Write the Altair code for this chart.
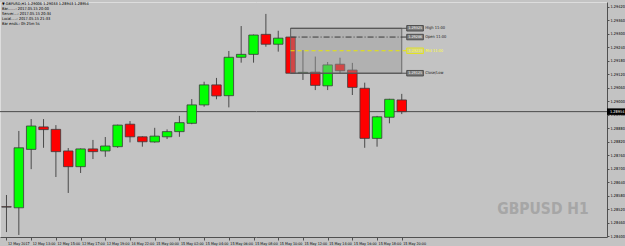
import altair as alt
import pandas as pd

# ---- data (GBPUSD H1) ----
times = ["12 May 11:00", "12 May 12:00", "12 May 13:00", "12 May 14:00", "12 May 15:00",
         "12 May 16:00", "12 May 17:00", "12 May 18:00", "12 May 19:00", "12 May 20:00",
         "14 May 22:00", "14 May 23:00", "15 May 00:00", "15 May 01:00", "15 May 02:00",
         "15 May 03:00", "15 May 04:00", "15 May 05:00", "15 May 06:00", "15 May 07:00",
         "15 May 08:00", "15 May 09:00", "15 May 10:00", "15 May 11:00", "15 May 12:00",
         "15 May 13:00", "15 May 14:00", "15 May 15:00", "15 May 16:00", "15 May 17:00",
         "15 May 18:00", "15 May 19:00", "15 May 20:00"]
opens = [1.28531, 1.28526, 1.28786, 1.28886, 1.28875, 1.28779, 1.28709, 1.28788, 1.28779, 1.28798,
         1.28898, 1.28842, 1.28819, 1.28842, 1.28865, 1.28902, 1.28984, 1.29073, 1.29025, 1.29196,
         1.29209, 1.29298, 1.29254, 1.29286, 1.29125, 1.29130, 1.29069, 1.29165, 1.29139, 1.29058,
         1.28835, 1.28929, 1.29006]
highs = [1.28583, 1.28868, 1.28921, 1.28921, 1.28894, 1.28792, 1.28790, 1.28828, 1.28841, 1.28896,
         1.28912, 1.28844, 1.28882, 1.28875, 1.28935, 1.29010, 1.29087, 1.29104, 1.29224, 1.29335,
         1.29297, 1.29389, 1.29314, 1.29325, 1.29228, 1.29199, 1.29175, 1.29194, 1.29171, 1.29083,
         1.28935, 1.29011, 1.29033]
lows = [1.28418, 1.28405, 1.28698, 1.28793, 1.28663, 1.28592, 1.28681, 1.28743, 1.28753, 1.28793,
        1.28817, 1.28798, 1.28816, 1.28832, 1.28842, 1.28898, 1.28976, 1.29009, 1.28973, 1.29172,
        1.29172, 1.29243, 1.29221, 1.29125, 1.29095, 1.29050, 1.29050, 1.29125, 1.29028, 1.28793,
        1.28798, 1.28902, 1.28943]
closes = [1.28529, 1.28793, 1.28890, 1.28874, 1.28776, 1.28709, 1.28788, 1.28776, 1.28801, 1.28894,
          1.28842, 1.28820, 1.28845, 1.28865, 1.28905, 1.28984, 1.29073, 1.29024, 1.29196, 1.29209,
          1.29295, 1.29254, 1.29281, 1.29125, 1.29129, 1.29071, 1.29162, 1.29136, 1.29062, 1.28835,
          1.28931, 1.29009, 1.28954]

x_tick_labels = ["12 May 2017", "12 May 13:00", "12 May 15:00", "12 May 17:00", "12 May 19:00",
                 "14 May 22:00", "15 May 00:00", "15 May 02:00", "15 May 04:00", "15 May 06:00",
                 "15 May 08:00", "15 May 10:00", "15 May 12:00", "15 May 14:00", "15 May 16:00",
                 "15 May 18:00", "15 May 20:00"]
y_tick_values = [1.28400, 1.28460, 1.28520, 1.28580, 1.28640, 1.28700, 1.28760, 1.28820, 1.28880,
                 1.28940, 1.29000, 1.29060, 1.29120, 1.29180, 1.29240, 1.29300, 1.29360, 1.29420]

level_names = ["High 11:00", "Open 11:00", "Mid 11:00", "Close/Low"]
level_prices = [1.29325, 1.29286, 1.29225, 1.29125]
box_start_bar = 23
box_end_bar = 32

header_lines = ["\u25BC GBPUSD,H1  1.29006 1.29033 1.28943 1.28954",
                "Bar.......: 2017.05.15 20:00",
                "Server....: 2017.05.15 20:34",
                "Local.....: 2017.05.15 21:33",
                "Bar ends.: 0h 25m 5s"]
watermark = "GBPUSD H1"

SMALL_FONT = "DejaVu Sans Condensed"

# ---- tables ----
df = pd.DataFrame({"i": range(len(opens)), "time": times, "open": opens, "high": highs,
                   "low": lows, "close": closes})
df["dir"] = ["up" if c >= o else "down" for o, c in zip(opens, closes)]

levels = pd.DataFrame({"name": level_names, "price": level_prices,
                       "label": [f"{p:.5f}" for p in level_prices]})
levels["x0"] = box_start_bar
levels["x1"] = box_end_bar + 0.4
levels["lx0"] = box_end_bar + 0.4
levels["lx1"] = box_end_bar + 1.75
levels["tx"] = box_end_bar + 1.9

box = pd.DataFrame({"x0": [box_start_bar], "x1": [box_end_bar],
                    "hi": [level_prices[0]], "lo": [level_prices[3]]})
last = df.tail(1)

W, H = 607, 235
xscale = alt.Scale(domain=[-0.12, 48.21], nice=False, zero=False)
yscale = alt.Scale(domain=[1.28396, 1.29442], nice=False, zero=False)

label_expr = "[" + ",".join(f"'{t}'" for t in x_tick_labels) + "][round(datum.value/2)]"

xaxis = alt.Axis(values=list(range(0, len(opens), 2)), labelExpr=label_expr, labelAlign="left",
                 labelBaseline="top", labelFontSize=3.7, labelFont=SMALL_FONT, labelPadding=1.5,
                 tickSize=3, labelOverlap=False, labelBound=False, labelFlush=False, grid=False,
                 title=None, domainColor="#505050", tickColor="#505050", labelColor="#000000",
                 labelOffset=1)
yaxis = alt.Axis(orient="right", values=y_tick_values, format=".5f", labelFontSize=3.9,
                 labelFont=SMALL_FONT, labelPadding=1, tickSize=2, labelOverlap=False, grid=False,
                 title=None, domainColor="#505050", tickColor="#505050", labelColor="#000000")

X = lambda f: alt.X(f"{f}:Q", scale=xscale, axis=xaxis)
Y = lambda f: alt.Y(f"{f}:Q", scale=yscale, axis=yaxis)

base = alt.Chart(df)

price_line = alt.Chart(last).mark_rule(color="#4a4a4a", strokeWidth=1).encode(
    x=alt.value(0), x2=alt.value(W), y=Y("close"))

wicks = base.mark_rule(color="#4a4a4a", strokeWidth=1).encode(
    x=X("i"), y=Y("low"), y2="high")

bodies = base.mark_bar(size=9.5, stroke="#3a3a3a", strokeWidth=0.8).encode(
    x=X("i"), y=Y("open"), y2="close",
    color=alt.Color("dir:N", scale=alt.Scale(domain=["up", "down"], range=["#00ff00", "#ff0000"]),
                    legend=None))

box_rect = alt.Chart(box).mark_rect(fill="#9c9c9c", fillOpacity=0.45, stroke="#6a6a6a",
                                    strokeWidth=1).encode(
    x=X("x0"), x2="x1", y=Y("hi"), y2="lo")

lv = alt.Chart(levels)
line_open = lv.transform_filter("datum.name == 'Open 11:00'").mark_rule(
    color="#3a3a3a", strokeDash=[6, 2, 1, 2], strokeWidth=1).encode(x=X("x0"), x2="x1", y=Y("price"))
line_mid = lv.transform_filter("datum.name == 'Mid 11:00'").mark_rule(
    color="#e8e800", strokeDash=[4, 3], strokeWidth=1).encode(x=X("x0"), x2="x1", y=Y("price"))
line_hl = lv.transform_filter("datum.name == 'High 11:00' || datum.name == 'Close/Low'").mark_rule(
    color="#505050", strokeWidth=1).encode(x=X("x0"), x2="x1", y=Y("price"))

tag_rect = lv.mark_rect(height=5.5, strokeWidth=0.8).encode(
    x=X("lx0"), x2="lx1", y=Y("price"),
    fill=alt.condition("datum.name == 'Mid 11:00'", alt.value("#cfcf9a"), alt.value("#7c7c7c")),
    stroke=alt.condition("datum.name == 'Mid 11:00'", alt.value("#e8e800"), alt.value("#3a3a3a")))
tag_text = lv.mark_text(fontSize=3.8, font=SMALL_FONT, align="center", baseline="middle").encode(
    x=X("lx0"), y=Y("price"), xOffset=alt.value(8.5), text="label:N",
    color=alt.condition("datum.name == 'Mid 11:00'", alt.value("#ffff30"), alt.value("#f0f0f0")))
name_text = lv.mark_text(fontSize=4.0, font=SMALL_FONT, align="left", baseline="middle").encode(
    x=X("tx"), y=Y("price"), text="name:N",
    color=alt.condition("datum.name == 'Mid 11:00'", alt.value("#ffff30"), alt.value("#202020")))

cur_rect = alt.Chart(last).mark_rect(height=6.5, color="#000000").encode(
    x=alt.value(W), x2=alt.value(W + 18), y=Y("close"))
cur_text = alt.Chart(last).mark_text(fontSize=3.9, font=SMALL_FONT, align="left",
                                     baseline="middle", color="#ffffff").encode(
    x=alt.value(W + 3), y=Y("close"), text=alt.Text("close:Q", format=".5f"))

header = alt.Chart(pd.DataFrame({"t": ["\n".join(header_lines)]})).mark_text(
    align="left", baseline="middle", fontSize=3.9, font=SMALL_FONT, lineBreak="\n",
    lineHeight=4.8, color="#000000").encode(x=alt.value(2), y=alt.value(2.4), text="t:N")

wm = alt.Chart(pd.DataFrame({"t": [watermark]})).mark_text(
    align="center", baseline="middle", fontSize=15.5, fontWeight="bold",
    font="DejaVu Sans Condensed", color="#a6a6a6").encode(
    x=alt.value(543), y=alt.value(207), text="t:N")

chart = alt.layer(
    wm, price_line, wicks, bodies, box_rect, line_open, line_mid, line_hl,
    tag_rect, tag_text, name_text, cur_rect, cur_text, header
).properties(
    width=W, height=H, background="#c3c3c3",
    padding={"left": 0, "top": 2, "right": 18, "bottom": 9},
    autosize=alt.AutoSizeParams(type="none"),
).configure_view(stroke="#7a7a7a", strokeWidth=1).configure(font="DejaVu Sans Condensed")

chart.save("out.html", embed_options={"renderer": "svg", "actions": False})
